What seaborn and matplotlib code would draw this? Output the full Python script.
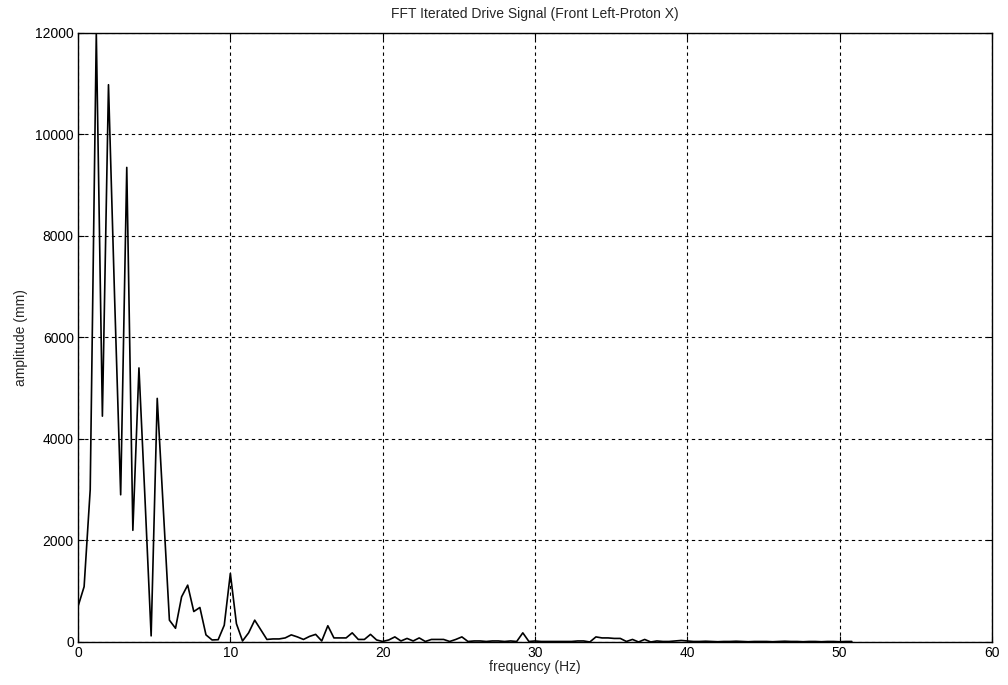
import numpy as np
import pandas as pd
import matplotlib
matplotlib.use("Agg")
import matplotlib.pyplot as plt
import seaborn as sns

# Frequency resolution of the FFT bins (Hz) and amplitudes (mm) per bin
freq_step = 0.4
amplitude = [
    700, 1090, 3000, 12000, 4450, 10980, 6800, 2900, 9350, 2200,
    5400, 2800, 120, 4800, 2600, 430, 270, 890, 1120, 600,
    680, 140, 40, 45, 330, 1350, 360, 20, 180, 430,
    240, 50, 60, 60, 80, 140, 100, 50, 110, 150,
    20, 320, 80, 80, 80, 180, 50, 50, 150, 40,
    10, 40, 100, 20, 70, 20, 80, 10, 50, 50,
    50, 10, 50, 100, 10, 20, 20, 10, 20, 20,
    10, 20, 10, 180, 10, 20, 10, 10, 10, 10,
    10, 10, 20, 20, 0, 100, 80, 80, 70, 70,
    10, 50, 0, 50, 0, 20, 10, 10, 20, 30,
    20, 10, 10, 15, 10, 5, 10, 10, 15, 10,
    5, 10, 10, 10, 5, 10, 15, 10, 10, 5,
    10, 10, 5, 10, 10, 5, 10, 10,
]
frequency = np.arange(len(amplitude)) * freq_step

title_text = "FFT Iterated Drive Signal (Front Left-Proton X)"
x_label = "frequency (Hz)"
y_label = "amplitude (mm)"
x_ticks = [0, 10, 20, 30, 40, 50, 60]
y_ticks = [0, 2000, 4000, 6000, 8000, 10000, 12000]

sns.set_style("white")
plt.rcParams["font.family"] = ["Liberation Sans", "DejaVu Sans"]

df = pd.DataFrame({"frequency": frequency, "amplitude": amplitude})

fig = plt.figure(figsize=(10.08, 6.85), dpi=100)
ax = fig.add_axes([0.0774, 0.0628, 0.9067, 0.8891])

sns.lineplot(data=df, x="frequency", y="amplitude", color="black",
             linewidth=1.2, ax=ax)

ax.set_xlim(0, 60)
ax.set_ylim(0, 12000)
ax.set_xticks(x_ticks)
ax.set_yticks(y_ticks)
ax.set_xticklabels([str(t) for t in x_ticks])
ax.set_yticklabels([str(t) for t in y_ticks])
ax.grid(True, color="black", linestyle=(0, (3, 3)), linewidth=0.8)
ax.set_axisbelow(True)
for s in ax.spines.values():
    s.set_color("black")
    s.set_linewidth(1.0)
ax.tick_params(direction="in", length=4, width=0.8, colors="black",
               labelsize=10, top=True, right=True, bottom=True, left=True,
               pad=3)
ax.set_xlabel(x_label, fontsize=10, labelpad=0)
ax.set_ylabel(y_label, fontsize=10, labelpad=5)
ax.set_title(title_text, fontsize=10, pad=11)

fig.savefig("out.png", dpi=100)
